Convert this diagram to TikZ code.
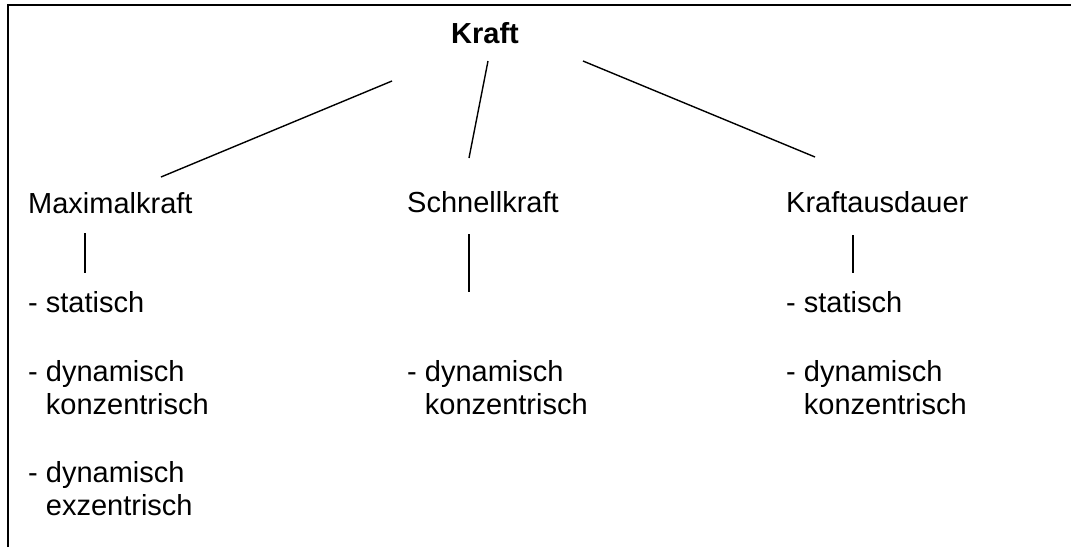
\documentclass[tikz,border=0pt]{standalone}
\usepackage{fontspec}
\setmainfont{Liberation Sans}
\begin{document}
\begin{tikzpicture}[x=1pt,y=-1pt,
  lbl/.style={inner sep=0pt, anchor=base west, font=\fontsize{29}{32.5}\selectfont, align=left},
  conn/.style={line width=1.4pt},
  frame/.style={line width=2.5pt}]
\useasboundingbox (0,0) rectangle (1071,547);
\draw[frame] (8,547) -- (8,5) -- (1071,5);
% nodes (multi-line nodes: base = baseline of last line)
\node[lbl, anchor=base, font=\bfseries\fontsize{29}{32.5}\selectfont] (kraft) at (485,43) {Kraft};
\node[lbl] (max) at (28,213) {Maximalkraft};
\node[lbl] (schnell) at (407,212) {Schnellkraft};
\node[lbl] (ausd) at (786,212) {Kraftausdauer};
\node[lbl] (m1) at (28,312) {- statisch};
\node[lbl] (m2) at (28,414) {- dynamisch\\\phantom{- }konzentrisch};
\node[lbl] (m3) at (28,515) {- dynamisch\\\phantom{- }exzentrisch};
\node[lbl] (s1) at (407,414) {- dynamisch\\\phantom{- }konzentrisch};
\node[lbl] (a1) at (786,312) {- statisch};
\node[lbl] (a2) at (786,414) {- dynamisch\\\phantom{- }konzentrisch};
% connector ends
\coordinate (kL) at (392,81);
\coordinate (kM) at (488,61);
\coordinate (kR) at (583,61);
\coordinate (maxT) at (161,177);
\coordinate (schT) at (469,158);
\coordinate (ausT) at (815,157);
\coordinate (maxB1) at (85,233);
\coordinate (maxB2) at (85,273);
\coordinate (schB1) at (469,234);
\coordinate (schB2) at (469,292);
\coordinate (ausB1) at (853,235);
\coordinate (ausB2) at (853,273);
\draw[conn] (kL) -- (maxT);
\draw[conn] (kM) -- (schT);
\draw[conn] (kR) -- (ausT);
\draw[conn] (maxB1) -- (maxB2);
\draw[conn] (schB1) -- (schB2);
\draw[conn] (ausB1) -- (ausB2);
\end{tikzpicture}
\end{document}
